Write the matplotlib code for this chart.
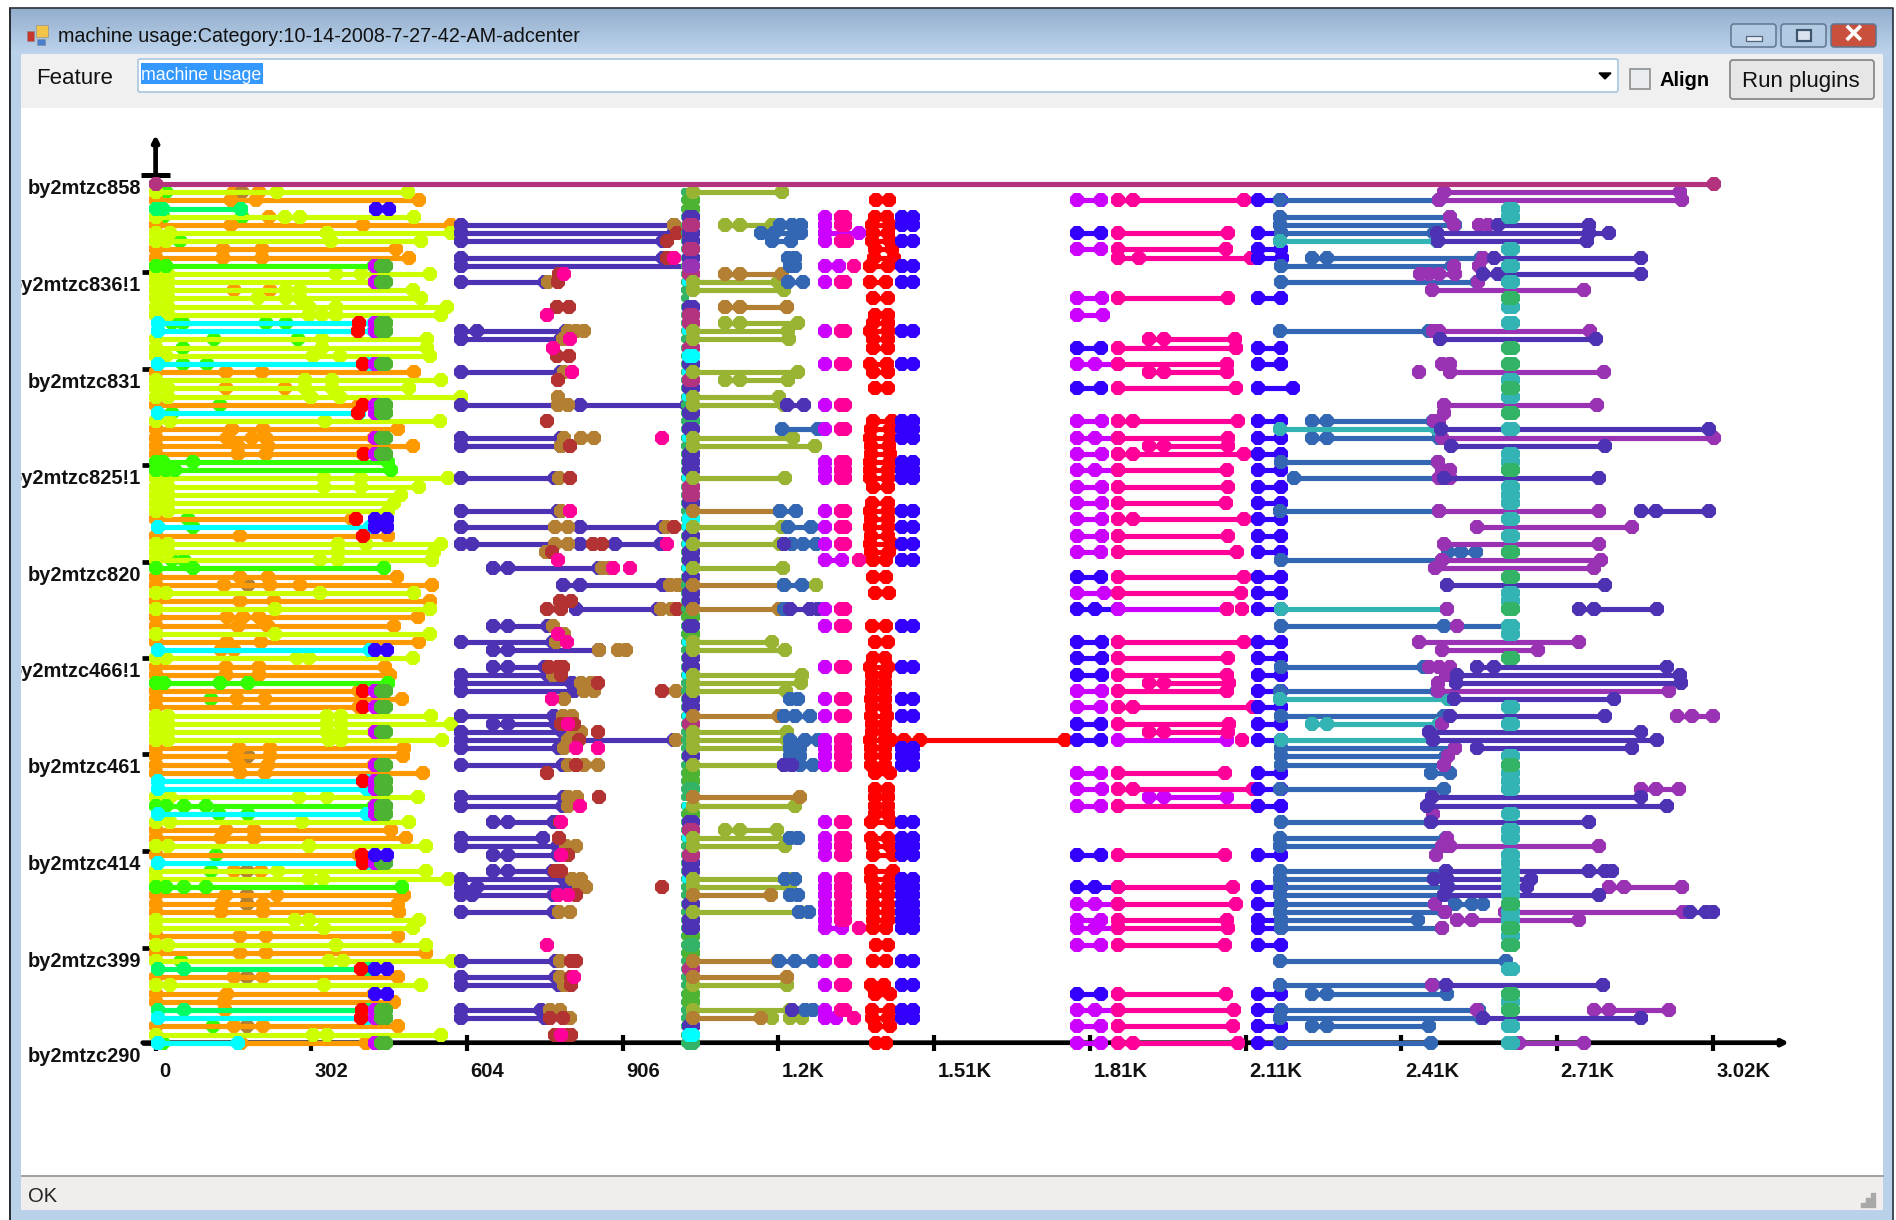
import matplotlib
matplotlib.use('Agg')
import matplotlib.pyplot as plt
from matplotlib.patches import Rectangle, FancyBboxPatch
from matplotlib.transforms import ScaledTranslation
import numpy as np

plt.rcParams['font.family'] = ['Liberation Sans', 'DejaVu Sans']

W, H = 1896, 1220

# tick marks and labels
xtick_values = [0, 302, 604, 906, 1208, 1510, 1812, 2114, 2416, 2718, 3020]
xtick_labels = ['0', '302', '604', '906', '1.2K', '1.51K', '1.81K', '2.11K', '2.41K', '2.71K', '3.02K']
ytick_rows = [-1.1, 10.8, 22.6, 34.4, 46.2, 58, 69.7, 81.6, 93.4, 105]
ytick_labels = ['by2mtzc858', 'by2mtzc836!1', 'by2mtzc831', 'by2mtzc825!1', 'by2mtzc820',
                'by2mtzc466!1', 'by2mtzc461', 'by2mtzc414', 'by2mtzc399', 'by2mtzc290']

# every series is (row, [x of each dot]); a line joins the dots of one entry
plum = [(0, [0, 3022])]

lime = [(1, [0, 236, 489]), (4, [0, 250, 281, 502]), (6, [0, 28, 333, 572]), (7, [0, 21, 340, 514]),
        (11, [0, 24, 350, 398, 532]), (12, [0, 24, 423]), (13, [0, 24, 253, 281, 499]),
        (14, [0, 24, 198, 253, 281, 514]), (15, [0, 24, 298, 350, 565]), (16, [0, 24, 298, 322, 350, 554]),
        (19, [0, 322, 527]), (20, [0, 322, 527]), (21, [0, 21, 305, 357, 532]), (24, [0, 289, 343, 554]),
        (25, [0, 24, 289, 343, 492]), (26, [0, 24, 301, 357, 592]), (29, [0, 28, 329, 551]),
        (36, [0, 24, 326, 398, 568]), (37, [0, 24, 326, 398, 511]), (38, [0, 24, 475]), (39, [0, 24, 463]),
        (40, [0, 24, 451]), (44, [0, 24, 354, 409, 554]), (45, [0, 24, 354, 540]), (46, [0, 319, 354, 537]),
        (50, [0, 21, 319, 502]), (52, [0, 232, 532]), (55, [0, 232, 532]), (58, [0, 21, 274, 298, 499]),
        (65, [0, 24, 333, 360, 534]), (66, [0, 24, 333, 360, 573]), (67, [0, 24, 333, 360, 423]),
        (68, [0, 24, 336, 360, 556]), (75, [0, 28, 279, 333, 509]), (78, [0, 28, 284, 492]),
        (81, [0, 24, 297, 525]), (84, [0, 237, 525]), (85, [0, 298, 324, 567]), (90, [0, 270, 298, 511]),
        (91, [0, 326, 499]), (93, [0, 24, 350, 525]), (95, [0, 336, 364, 575]), (98, [0, 28, 327, 514]),
        (104, [0, 305, 333, 554])]

orange = [(2, [0, 146, 194, 511]), (5, [0, 146, 402, 572]), (8, [0, 130, 207, 466]), (9, [0, 130, 207, 492]),
          (23, [0, 137, 207, 502]), (27, [0, 395]), (30, [0, 149, 208, 470]), (31, [0, 139, 187, 215, 423]),
          (32, [0, 160, 218, 499]), (33, [0, 160, 215, 402]), (41, [0, 380]), (43, [0, 163, 450]),
          (48, [0, 163, 218, 468]), (49, [0, 132, 222, 281, 537]), (51, [0, 163, 229, 532]),
          (53, [0, 139, 170, 201, 509]), (54, [0, 160, 218, 463]), (56, [0, 139, 204, 511]),
          (59, [0, 137, 201, 444]), (60, [0, 137, 201, 454]), (62, [0, 395]), (63, [0, 158, 212, 477]),
          (64, [0, 395]), (69, [0, 161, 222, 482]), (70, [0, 153, 222, 480]), (71, [0, 161, 218, 423]),
          (72, [0, 163, 213, 518]), (79, [0, 137, 191, 457]), (80, [0, 126, 191, 486]), (82, [0, 395]),
          (87, [0, 137, 236, 482]), (88, [0, 128, 208, 470]), (89, [0, 126, 208, 473]), (92, [0, 163, 215, 470]),
          (94, [0, 163, 215, 525]), (97, [0, 153, 208, 470]), (99, [0, 139, 423]), (100, [0, 133, 463]),
          (103, [0, 153, 208, 470]), (105, [165, 409])]
orange_dots = [(1, [153]), (1, [201]), (4, [220]), (13, [153]), (13, [222]), (25, [137]), (25, [250]),
               (57, [126]), (57, [153]), (84, [153]), (84, [205]), (101, [135])]
brown_dots_a = [(1, [168]), (49, [180]), (70, [179]), (84, [177]), (87, [177]), (88, [177]), (97, [177]), (103, [177])]

spring = [(3, [0, 14, 165]), (96, [4, 55, 412]), (101, [4, 55, 412])]
cyan = [(17, [4, 423]), (18, [4, 423]), (22, [4, 415]), (28, [4, 395]), (42, [4, 415]), (57, [4, 415]),
        (73, [4, 410]), (74, [4, 410]), (77, [4, 410]), (83, [4, 410]), (102, [4, 410]), (105, [4, 160])]
green = [(10, [0, 21, 423]), (34, [0, 14, 73, 450]), (35, [0, 21, 38, 457]), (47, [0, 73, 443]),
         (61, [0, 17, 125, 179, 450]), (76, [0, 21, 56, 97, 423]), (86, [0, 21, 56, 97, 477])]
green_dots = [(1, [21]), (4, [14]), (4, [168]), (7, [48]), (17, [32]), (17, [54]), (17, [215]), (17, [253]),
              (19, [114]), (19, [277]), (20, [54]), (22, [54]), (22, [100]), (27, [125]), (28, [32]), (41, [63]),
              (42, [73]), (46, [32]), (46, [55]), (63, [108]), (77, [123]), (77, [179]), (82, [118]),
              (84, [108]), (95, [50]), (103, [111]), (105, [14])]

red_end_a = [(17, [395]), (18, [392]), (22, [403]), (27, [402]), (28, [392]), (33, [404]), (41, [388]), (43, [403]),
             (62, [403]), (64, [403]), (73, [403]), (82, [400]), (83, [403]), (96, [398]), (101, [400]), (102, [398])]
clump_rows = [10, 12, 17, 18, 22, 27, 28, 31, 33, 62, 64, 67, 71, 73, 74, 76, 77, 83, 101, 102, 105]
clump_violet_x = 425
clump_leaf_x = [438, 446]
blue_a = [(3, [428, 452]), (41, [425, 448]), (42, [425, 448]), (57, [425, 448]), (82, [425, 448]),
          (96, [425, 448]), (99, [425, 448])]

indigo_b = [(5, [593, 1005]), (6, [593, 1005]), (7, [593, 985]), (9, [593, 985]), (10, [593, 1035]), (12, [593, 755]),
            (18, [593, 624, 795]), (19, [593, 786]), (23, [593, 786]), (27, [593, 823, 1030]), (31, [593, 786]),
            (32, [593, 786]), (36, [593, 775]), (40, [593, 780]), (42, [593, 823, 985]),
            (44, [593, 613, 823, 891, 980]), (47, [655, 683, 860]), (49, [790, 823, 985]), (52, [816, 975]),
            (54, [655, 683, 762]), (56, [593, 770]), (57, [655, 683, 860]), (59, [655, 683, 755]), (60, [593, 762]),
            (61, [593, 807]), (62, [593, 811]), (65, [593, 773]), (66, [655, 683, 776]), (67, [593, 790]),
            (68, [593, 1005]), (69, [593, 783]), (71, [593, 790]), (75, [593, 793]), (76, [593, 790]),
            (78, [655, 683, 773]), (80, [593, 752]), (81, [593, 780]), (82, [655, 683, 780]), (84, [655, 683, 770]),
            (85, [593, 793]), (86, [593, 624, 803]), (87, [593, 613, 773]), (89, [593, 773]), (95, [593, 776]),
            (97, [593, 776]), (98, [593, 783]), (101, [593, 748]), (102, [593, 755])]
brown_b = [(5, [1005]), (12, [762]), (18, [800, 815, 831]), (19, [790]), (23, [793]), (26, [781]), (27, [781, 800]),
           (31, [793]), (31, [825, 850]), (32, [786]), (36, [783]), (40, [786]), (42, [775, 800]), (42, [990]),
           (44, [775, 800]), (45, [757]), (47, [866, 880]), (49, [998, 1013]), (52, [980, 1000]), (54, [770]),
           (55, [793]), (56, [777]), (57, [859]), (57, [897, 912]), (60, [770]), (61, [825, 845]), (62, [830, 850]),
           (62, [1010]), (63, [793]), (65, [790, 808]), (67, [810, 825]), (68, [800]), (68, [1010]), (69, [793]),
           (71, [800]), (71, [830]), (71, [858]), (75, [800, 818]), (76, [800]), (81, [796, 815]), (85, [808, 825]),
           (86, [822, 835]), (89, [783, 803]), (95, [785]), (97, [785]), (98, [793]), (101, [765, 785]), (102, [804])]
brick = [(6, [1012]), (7, [991]), (9, [991]), (11, [783]), (12, [780]), (15, [778, 802]), (21, [778, 802]), (24, [780]),
         (29, [760]), (32, [803]), (36, [803]), (42, [1005]), (44, [849, 866]), (45, [768]), (51, [785, 805]),
         (52, [760, 786]), (52, [1012]), (59, [763, 780, 790]), (60, [786]), (61, [858]), (62, [982]), (66, [786]),
         (66, [812]), (67, [858]), (68, [822]), (71, [815]), (72, [760]), (75, [859]), (78, [785]), (80, [783]),
         (82, [800]), (84, [775, 786]), (86, [982]), (87, [815]), (95, [805, 815]), (97, [805]), (98, [805]),
         (102, [765, 790]), (104, [775]), (104, [800, 805])]
pink_b = [(9, [1005]), (11, [793]), (16, [760]), (19, [803]), (20, [770]), (23, [808]), (31, [982]), (40, [803]),
          (44, [991]), (46, [781]), (47, [887]), (47, [920]), (55, [781]), (56, [798]), (63, [768]), (66, [800]),
          (69, [816]), (69, [858]), (76, [823]), (78, [786]), (82, [786]), (87, [780]), (87, [800]), (93, [760]),
          (97, [812]), (104, [786])]

# stacked dots around x = 1.03K
stack_indigo = [4, 6, 7, 9, 15, 22, 25, 28, 30, 33, 34, 35, 39, 43, 45, 46, 48, 50, 51, 54, 58, 59, 63, 64, 70, 78,
                83, 84, 88, 90, 91, 103]
stack_plum = [5, 8, 11, 16, 17, 20, 24, 37, 38, 66, 79, 82, 96]
stack_purple = [10]
stack_leaf = [2, 3, 53, 55, 72, 73, 77, 92, 94, 99, 100]
stack_sea = [29, 74, 93, 105]
stack_cyan = [21, 41, 104]
stack_x = [1034, 1043]
strip_cyan_rows = [12, 18, 21, 23, 26, 31, 36, 41, 42, 44, 47, 56, 60, 65, 66, 73, 76, 80, 85, 96, 104, 105]

olive = [(1, [1043, 1215]), (5, [1105, 1133, 1196]), (12, [1043, 1207]), (13, [1043, 1219]), (17, [1105, 1133, 1245]),
         (18, [1043, 1226]), (19, [1043, 1228]), (23, [1043, 1245]), (24, [1105, 1133, 1226]), (26, [1043, 1209]),
         (27, [1043, 1219]), (31, [1043, 1237]), (32, [1043, 1279]), (36, [1043, 1220]), (42, [1043, 1215]),
         (44, [1043, 1211]), (47, [1043, 1217]), (49, [1280]), (56, [1043, 1195]), (57, [1043, 1221]),
         (60, [1043, 1254]), (61, [1043, 1251]), (62, [1043, 1222]), (67, [1043, 1225]), (68, [1043, 1225]),
         (69, [1043, 1230]), (71, [1043, 1219]), (76, [1043, 1240]), (79, [1105, 1133, 1205]), (80, [1043, 1230]),
         (81, [1043, 1220]), (85, [1043, 1230]), (86, [1043, 1230]), (89, [1043, 1250]), (98, [1043, 1225]),
         (101, [1043, 1230]), (102, [1195]), (102, [1230]), (102, [1254])]
brown_c = [(11, [1105, 1133, 1215]), (15, [1105, 1133, 1224]), (40, [1043, 1211]), (49, [1043, 1219]),
           (52, [1043, 1209]), (65, [1043, 1209]), (75, [1043, 1250]), (87, [1043, 1193]), (95, [1043, 1207]),
           (97, [1043, 1225]), (102, [1043, 1175])]
steel_c = [(5, [1211, 1235, 1252]), (6, [1174, 1200, 1252]), (7, [1196, 1233]), (9, [1226, 1240]), (10, [1230, 1240]),
           (12, [1226, 1256]), (30, [1215, 1285]), (40, [1211, 1243]), (42, [1226, 1271]), (44, [1235, 1255, 1280]),
           (49, [1219, 1254]), (52, [1219]), (63, [1230, 1245]), (65, [1219, 1240, 1270]), (68, [1230, 1260, 1285]),
           (69, [1230, 1250]), (70, [1230, 1250]), (71, [1250, 1275]), (80, [1230, 1245]), (85, [1220, 1240]),
           (87, [1230, 1245]), (89, [1248, 1268]), (95, [1210, 1240, 1275]), (101, [1260, 1275])]
indigo_c = [(27, [1225, 1258]), (44, [1219]), (52, [1230, 1270, 1285]), (71, [1219, 1235]), (101, [1235])]

violet_d_rows = [4, 5, 7, 12, 18, 22, 27, 30, 34, 35, 36, 40, 42, 44, 52, 54, 59, 63, 65, 68, 69, 70, 71, 78, 80, 81,
                 82, 85, 86, 87, 88, 89, 90, 95, 98, 101]
violet_d_x = 1299
pink_d_x = [1330, 1338]
violet_d = [(6, [1299, 1365]), (10, [1299, 1325]), (46, [1299, 1332]), (91, [1299, 1332]), (102, [1299, 1320])]
pink_d = [(10, [1355]), (46, [1365]), (91, [1365]), (102, [1355]), (7, [1340]), (5, [1337])]

red_d = [(2, [1397, 1423]), (4, [1395, 1418]), (5, [1390, 1424]), (6, [1392, 1420]), (7, [1390, 1424]), (8, [1395, 1428]),
         (9, [1393, 1432]), (10, [1385, 1420]), (12, [1385, 1416]), (14, [1392, 1420]), (16, [1395, 1420]),
         (17, [1392, 1420]), (18, [1385, 1420]), (19, [1392, 1420]), (20, [1392, 1420]), (22, [1385, 1418]),
         (23, [1392, 1420]), (25, [1395, 1420]), (29, [1392, 1428]), (30, [1388, 1425]), (31, [1385, 1425]),
         (32, [1388, 1422]), (33, [1388, 1425]), (34, [1385, 1425]), (35, [1385, 1420]), (36, [1385, 1420]),
         (37, [1392, 1420]), (39, [1390, 1420]), (40, [1385, 1420]), (41, [1388, 1420]), (42, [1385, 1420]),
         (43, [1388, 1420]), (44, [1385, 1428]), (45, [1388, 1422]), (46, [1392, 1417]), (48, [1392, 1417]),
         (50, [1395, 1423]), (54, [1390, 1417]), (56, [1395, 1420]), (58, [1392, 1415]), (59, [1385, 1420]),
         (60, [1390, 1415]), (61, [1390, 1415]), (62, [1390, 1415]), (63, [1387, 1415]), (64, [1390, 1415]),
         (65, [1387, 1418]), (66, [1390, 1415]), (67, [1390, 1415]), (68, [1385, 1415]), (69, [1387, 1415]),
         (70, [1387, 1415]), (71, [1387, 1415]), (72, [1395, 1425]), (74, [1395, 1420]), (75, [1395, 1420]),
         (76, [1395, 1420]), (77, [1395, 1420]), (78, [1388, 1427]), (80, [1388, 1420]), (81, [1392, 1425]),
         (82, [1392, 1430]), (84, [1388, 1430]), (85, [1388, 1425]), (86, [1392, 1420]), (87, [1392, 1420]),
         (88, [1392, 1420]), (89, [1392, 1420]), (90, [1392, 1420]), (91, [1392, 1417]), (93, [1397, 1420]),
         (95, [1392, 1417]), (98, [1388, 1412]), (99, [1395, 1425]), (101, [1390, 1425]), (102, [1390, 1420]),
         (103, [1395, 1425]), (105, [1397, 1417]), (68, [1427, 1451, 1482, 1763])]
blue_d_rows = [4, 5, 7, 10, 12, 18, 22, 29, 30, 31, 34, 35, 36, 40, 42, 44, 46, 54, 59, 63, 65, 69, 70, 71, 78, 80, 81,
               82, 85, 86, 87, 88, 89, 90, 91, 95, 98, 101, 102]
blue_d_x = [1448, 1468]

violet_e = [(2, [1788, 1834]), (8, [1788, 1834]), (14, [1788, 1836]), (16, [1788, 1838]), (22, [1788, 1821, 1866]),
            (29, [1788, 1836]), (31, [1788, 1821, 1866]), (33, [1788, 1836]), (35, [1788, 1821, 1866]),
            (37, [1788, 1836]), (39, [1788, 1836]), (41, [1788, 1836]), (43, [1788, 1836]), (45, [1788, 1834]),
            (50, [1788, 1840]), (62, [1788, 1836]), (64, [1788, 1834]), (72, [1788, 1834]), (74, [1788, 1836]),
            (76, [1788, 1834]), (88, [1788, 1821, 1866]), (90, [1788, 1834]), (91, [1788, 1821, 1866]),
            (93, [1788, 1834]), (101, [1788, 1821, 1866]), (103, [1788, 1834]), (105, [1788, 1834]),
            (52, [1866, 2078]), (68, [1866, 2078]), (75, [1926, 1956, 2078])]
blue_e = [(6, [1788, 1834]), (20, [1788, 1834]), (25, [1788, 1834]), (48, [1788, 1834]), (52, [1788, 1821, 1866]),
          (56, [1788, 1836]), (58, [1788, 1836]), (60, [1788, 1836]), (66, [1788, 1834]), (68, [1788, 1834]),
          (82, [1788, 1834]), (86, [1788, 1821, 1866]), (99, [1788, 1834])]
pink_f = [(2, [1866, 1895, 2111]), (6, [1866, 2080]), (8, [1866, 2076]), (9, [1866, 1908, 2124]), (14, [1866, 2080]),
          (19, [1926, 1956, 2093]), (20, [1866, 2096]), (22, [1866, 2078]), (23, [1926, 1956, 2078]),
          (25, [1866, 2096]), (29, [1866, 1895, 2100]), (31, [1866, 2080]), (32, [1926, 1956, 2080]),
          (33, [1866, 1895, 2110]), (35, [1866, 2078]), (37, [1866, 2080]), (39, [1866, 2076]),
          (41, [1866, 1895, 2111]), (43, [1866, 2080]), (45, [1866, 2098]), (48, [1866, 2110]), (50, [1866, 2106]),
          (52, [2078]), (52, [2107]), (56, [1866, 2110]), (58, [1866, 2080]), (60, [1866, 2078]),
          (61, [1926, 1956, 2082]), (62, [1866, 2078]), (64, [1866, 1895, 2128]), (66, [1866, 2082]),
          (67, [1926, 1956, 2080]), (68, [2107]), (72, [1866, 2074]), (74, [1866, 1895, 2128]), (76, [1866, 2138]),
          (82, [1866, 2074]), (86, [1866, 2090]), (88, [1866, 2095]), (90, [1866, 2078]), (91, [1866, 2080]),
          (93, [1866, 2074]), (99, [1866, 2076]), (101, [1866, 2092]), (103, [1866, 2090]), (105, [1866, 1895, 2100])]
blue_g = [(2, [2138, 2183]), (6, [2138, 2183]), (8, [2138, 2183]), (9, [2138, 2185]), (14, [2138, 2183]), (20, [2138, 2183]),
          (22, [2138, 2183]), (25, [2138, 2206]), (29, [2138, 2183]), (31, [2138, 2183]), (33, [2138, 2183]),
          (35, [2138, 2183]), (37, [2138, 2183]), (39, [2138, 2183]), (41, [2138, 2183]), (43, [2138, 2183]),
          (45, [2138, 2183]), (48, [2138, 2183]), (50, [2138, 2183]), (52, [2138, 2183]), (56, [2138, 2183]),
          (58, [2138, 2183]), (60, [2138, 2183]), (62, [2138, 2183]), (64, [2138, 2183]), (66, [2138, 2183]),
          (68, [2138, 2183]), (72, [2138, 2183]), (74, [2138, 2183]), (76, [2138, 2183]), (82, [2138, 2183]),
          (86, [2138, 2183]), (88, [2138, 2183]), (90, [2138, 2183]), (91, [2138, 2183]), (93, [2138, 2183]),
          (99, [2138, 2183]), (101, [2138, 2183]), (103, [2138, 2183]), (105, [2138, 2183])]
steel_h = [(2, [2180, 2490]), (4, [2180, 2510]), (5, [2180, 2520]), (6, [2183, 2480]), (9, [2242, 2271, 2570]),
           (10, [2183, 2515]), (12, [2183, 2562]), (18, [2180, 2470]), (29, [2242, 2271, 2477]),
           (31, [2242, 2271, 2490]), (34, [2183, 2488]), (36, [2208, 2498]), (40, [2180, 2490]), (45, [2507, 2532, 2561]),
           (46, [2183, 2495]), (54, [2183, 2498, 2628]), (59, [2183, 2460]), (62, [2180, 2486]), (65, [2183, 2498]),
           (69, [2183, 2520]), (70, [2183, 2502]), (71, [2183, 2498]), (72, [2473, 2510]), (74, [2180, 2498]),
           (78, [2183, 2473]), (80, [2180, 2503]), (81, [2180, 2503]), (84, [2180, 2503]), (85, [2180, 2500]),
           (86, [2180, 2507]), (87, [2180, 2498]), (88, [2183, 2481]), (88, [2521, 2553, 2574]), (89, [2180, 2498]),
           (90, [2183, 2448]), (91, [2183, 2494]), (95, [2180, 2620]), (98, [2180, 2477]), (99, [2242, 2271, 2505]),
           (101, [2183, 2566]), (102, [2180, 2570]), (103, [2242, 2271, 2469]), (105, [2180, 2474])]
teal_h = [(7, [2180, 2486]), (30, [2180, 2486]), (52, [2183, 2505]), (63, [2180, 2507]), (66, [2242, 2271, 2490]),
          (68, [2183, 2477])]
purple_i = [(1, [2498, 2957]), (2, [2490, 2961]), (4, [2511]), (5, [2519]), (5, [2566, 2585]), (9, [2574]),
            (10, [2518]), (10, [2566]), (11, [2452, 2470, 2490, 2520]), (12, [2564]), (13, [2476, 2771]),
            (18, [2477, 2490, 2782]), (22, [2495, 2510]), (23, [2450]), (23, [2511, 2809]), (27, [2498, 2795]),
            (28, [2498]), (29, [2480, 2490]), (31, [2494, 3022]), (34, [2488]), (35, [2494, 2510]), (36, [2490, 2510]),
            (40, [2490, 2799]), (42, [2563, 2864]), (44, [2498, 2799]), (46, [2495, 2803]), (47, [2481, 2790]),
            (52, [2505]), (54, [2525]), (56, [2450, 2761]), (57, [2494, 2682]), (59, [2470, 2490, 2510]), (60, [2503]),
            (61, [2487]), (62, [2487, 2935]), (65, [2950, 2980, 3020]), (66, [2494]), (69, [2520]), (70, [2506]),
            (71, [2498]), (74, [2881, 2910, 2955]), (77, [2477]), (80, [2505]), (81, [2495, 2510, 2800]), (82, [2484]),
            (86, [2818, 2847, 2961]), (88, [2482]), (89, [2500]), (89, [2617, 2963]), (90, [2524, 2553, 2760]),
            (91, [2495]), (98, [2475]), (101, [2563]), (101, [2790, 2818, 2935]), (105, [2645, 2770])]
indigo_i = [(5, [2604, 2780]), (6, [2485, 2780, 2818]), (7, [2488, 2777]), (9, [2596, 2881]), (11, [2574, 2604, 2881]),
            (19, [2491, 2793]), (30, [2493, 3013]), (32, [2513, 2812]), (36, [2498, 2799]), (40, [2881, 2910, 3013]),
            (49, [2505, 2812]), (52, [2761, 2790, 2912]), (59, [2563, 2595, 2932]), (60, [2524, 2957]),
            (61, [2523, 2958]), (63, [2518, 2828]), (65, [2511, 2812]), (67, [2469, 2881]), (68, [2477, 2912]),
            (69, [2563, 2863]), (75, [2476, 2881]), (76, [2465, 2932]), (78, [2473, 2780]), (84, [2503, 2780, 2812, 2825]),
            (85, [2480, 2505, 2667]), (86, [2505, 2660]), (87, [2498, 2800]), (89, [2975, 3007, 3020]),
            (98, [2503, 2808]), (102, [2574, 2881])]
teal_rows = [3, 4, 8, 10, 12, 15, 17, 24, 26, 30, 33, 34, 37, 38, 39, 41, 43, 50, 51, 54, 55, 64, 66, 70, 72, 73, 74, 77,
             79, 80, 82, 83, 84, 85, 86, 87, 89, 90, 92, 96, 100, 103, 105]
sea_rows = [14, 20, 22, 25, 28, 35, 45, 48, 52, 58, 71, 88, 91, 93, 99, 101]
teal_x = [2622, 2633]

colors = {
    'lime': '#CCFF00', 'orange': '#FF9900', 'spring': '#00FF66', 'cyan': '#00FFFF', 'green': '#33FF00',
    'plum': '#B3337F', 'red': '#FF0000', 'violet': '#CC00FF', 'leaf': '#4DB333', 'blue': '#3300FF',
    'indigo': '#4D33B3', 'brown': '#B38033', 'brick': '#B33333', 'pink': '#FF0099', 'olive': '#99B333',
    'steel': '#3366B3', 'teal': '#33B3B3', 'purple': '#9933B3', 'sea': '#33B366',
}


def draw_runs(ax, runs, color, ms=10.8, lw=3.7):
    for row, xs in runs:
        ax.plot(xs, [row] * len(xs), color=colors[color], lw=lw, marker='8', ms=ms, mew=0,
                solid_capstyle='butt', clip_on=False)


def at(rows, x):
    xs = x if isinstance(x, list) else [x]
    return [(r, xs) for r in rows]


fig = plt.figure(figsize=(W / 100, H / 100), dpi=100, facecolor='white')

# window chrome, drawn in pixels
win = fig.add_axes([0, 0, 1, 1], zorder=-1)
win.set_xlim(0, W)
win.set_ylim(H, 0)
win.axis('off')
grad = np.linspace(0, 1, 64).reshape(-1, 1)
win.imshow(grad, extent=(9, 1893, 54, 8), aspect='auto', cmap=matplotlib.colors.LinearSegmentedColormap.from_list(
    'title', ['#93AECD', '#BDD4EC']), zorder=1)
win.set_xlim(0, W)
win.set_ylim(H, 0)
win.add_patch(Rectangle((9, 54), 12, 1166, fc='#BAD1EA', ec='none', zorder=1))
win.add_patch(Rectangle((1883, 54), 10, 1166, fc='#BAD1EA', ec='none', zorder=1))
win.add_patch(Rectangle((9, 1210), 1884, 10, fc='#BAD1EA', ec='none', zorder=1))
win.plot([9, 9, 1893, 1893], [1220, 8, 8, 1220], color='#2A2F36', lw=1.2, zorder=2)
win.add_patch(Rectangle((21, 54), 1862, 54, fc='#F0F0F0', ec='none', zorder=1))
win.add_patch(Rectangle((21, 1176), 1862, 34, fc='#F0EDEC', ec='none', zorder=1))
win.plot([21, 1883], [1176, 1176], color='#A0A0A0', lw=1.4, zorder=2)
win.add_patch(FancyBboxPatch((138, 59), 1480, 33, boxstyle='round,pad=0,rounding_size=2', fc='white',
                             ec='#A9C6DE', lw=1.2, zorder=2))
win.add_patch(Rectangle((141, 63), 122, 21, fc='#3399FF', ec='none', zorder=3))
win.text(141, 76, 'machine usage', color='white', fontsize=12.8, va='center', zorder=4)
win.text(36, 79, 'Feature', color='#111111', fontsize=16, va='center', zorder=4)
win.text(58, 36, 'machine usage:Category:10-14-2008-7-27-42-AM-adcenter', color='#111111', fontsize=14.2,
         va='center', zorder=4)
win.text(1660, 80, 'Align', color='black', fontsize=14.5, weight='bold', va='center', zorder=4)
win.text(28, 1197, 'OK', color='#222222', fontsize=14.5, va='center', zorder=4)
win.fill([1599, 1611, 1605], [73, 73, 79], color='black', zorder=4)
win.add_patch(Rectangle((1630, 69), 20, 20, fc='#E8ECF0', ec='#8E8F8F', lw=1.2, zorder=3))
win.add_patch(FancyBboxPatch((1730, 60), 144, 39, boxstyle='round,pad=0,rounding_size=3', fc='#E6E6E6',
                             ec='#8A8A8A', lw=1.3, zorder=3))
win.text(1801, 82, 'Run plugins', color='#111111', fontsize=16, ha='center', va='center', zorder=4)
for x0, face in [(1731, '#B3CAE3'), (1781, '#B3CAE3'), (1831, '#C8503C')]:
    win.add_patch(FancyBboxPatch((x0, 24), 45, 23, boxstyle='round,pad=0,rounding_size=3', fc=face,
                                 ec='#5F7590', lw=1.1, zorder=3))
win.add_patch(Rectangle((1746, 36), 16, 5, fc='#E6EDF5', ec='#50647C', lw=0.9, zorder=4))
win.add_patch(Rectangle((1797, 30), 14, 11, fc='#D9E4F0', ec='#40546C', lw=1.6, zorder=4))
win.text(1853, 35, '×', color='white', fontsize=24, weight='bold', ha='center', va='center', zorder=4)
win.add_patch(Rectangle((27, 31), 7, 10, fc='#C8352A', ec='#888888', lw=0.4, zorder=4))
win.add_patch(Rectangle((36, 25), 12, 12, fc='#F2C548', ec='#888888', lw=0.4, zorder=4))
win.add_patch(Rectangle((37, 39), 8, 6, fc='#4A7FD0', ec='#888888', lw=0.4, zorder=4))
win.scatter([1863, 1868, 1873, 1868, 1873, 1873], [1205, 1205, 1205, 1200, 1200, 1195], s=5, marker='s',
            color='#A8A8A8', zorder=4)

# chart area: row 0 at y=184 px, row 105 at y=1042.7 px, 0.5156 px per x unit
left, right = 155.6, 1789
top, bottom = 175, 1042.7
ax = fig.add_axes([left / W, 1 - bottom / H, (right - left) / W, (bottom - top) / H])
ax.patch.set_alpha(0)
ax.set_xlim(0, (right - left) / 0.5156)
ax.set_ylim(105, -1.1)
for s in ax.spines.values():
    s.set_visible(False)
ax.set_axisbelow(True)
ax.set_xticks(xtick_values)
ax.set_xticklabels(xtick_labels, fontsize=14.6, weight='bold', ha='left', color='#111111')
ax.set_yticks(ytick_rows)
ax.set_yticklabels(ytick_labels, fontsize=14.4, weight='bold', va='top', color='#111111')
ax.tick_params(axis='x', direction='inout', length=12, width=3, pad=8, color='black')
ax.tick_params(axis='y', direction='out', length=10, width=3.4, pad=2, color='black')
for lbl in ax.get_yticklabels():
    lbl.set_transform(lbl.get_transform() + ScaledTranslation(2.5 / 100, -4 / 100, fig.dpi_scale_trans))
for lbl in ax.get_xticklabels():
    lbl.set_transform(lbl.get_transform() + ScaledTranslation(3.5 / 100, 0, fig.dpi_scale_trans))
ax.annotate('', xy=(3168, 105), xytext=(-25, 105), zorder=1, annotation_clip=False,
            arrowprops=dict(arrowstyle='-|>,head_width=0.18,head_length=0.35', lw=3.4, color='black', shrinkA=0, shrinkB=0))
ax.annotate('', xy=(0, -6), xytext=(0, 105), zorder=1, annotation_clip=False,
            arrowprops=dict(arrowstyle='-|>,head_width=0.18,head_length=0.35', lw=3.4, color='black', shrinkA=0, shrinkB=0))
ax.plot([-28, 28], [-1.1, -1.1], color='black', lw=3.6, solid_capstyle='butt', clip_on=False)

# first block, left to right
draw_runs(ax, green_dots, 'green')
draw_runs(ax, orange_dots, 'orange')
draw_runs(ax, brown_dots_a, 'brown')
draw_runs(ax, orange, 'orange')
draw_runs(ax, lime, 'lime')
draw_runs(ax, green, 'green')
draw_runs(ax, spring, 'spring')
draw_runs(ax, cyan, 'cyan')
draw_runs(ax, red_end_a, 'red')
draw_runs(ax, at(clump_rows, clump_violet_x), 'violet')
draw_runs(ax, at(clump_rows, clump_leaf_x), 'leaf')
draw_runs(ax, blue_a, 'blue')

draw_runs(ax, indigo_b, 'indigo')
draw_runs(ax, brown_b, 'brown')
draw_runs(ax, brick, 'brick')
draw_runs(ax, pink_b, 'pink')

# thin strip and the stack
draw_runs(ax, at(list(range(1, 106)), 1026), 'sea', ms=6)
draw_runs(ax, at(strip_cyan_rows, 1029), 'cyan', ms=6)
draw_runs(ax, at(stack_leaf, stack_x), 'leaf')
draw_runs(ax, at(stack_sea, stack_x), 'sea')
draw_runs(ax, at(stack_indigo, stack_x), 'indigo')
draw_runs(ax, at(stack_plum, stack_x), 'plum')
draw_runs(ax, at(stack_purple, stack_x), 'purple')
draw_runs(ax, at(stack_cyan, stack_x), 'cyan')

draw_runs(ax, olive, 'olive')
draw_runs(ax, brown_c, 'brown')
draw_runs(ax, steel_c, 'steel')
draw_runs(ax, indigo_c, 'indigo')

draw_runs(ax, at(violet_d_rows, violet_d_x), 'violet')
draw_runs(ax, violet_d, 'violet')
draw_runs(ax, at(violet_d_rows, pink_d_x), 'pink')
draw_runs(ax, pink_d, 'pink')
draw_runs(ax, red_d, 'red')
draw_runs(ax, at(blue_d_rows, blue_d_x), 'blue')

draw_runs(ax, blue_e, 'blue')
draw_runs(ax, violet_e, 'violet')
draw_runs(ax, pink_f, 'pink')
draw_runs(ax, blue_g, 'blue')
draw_runs(ax, steel_h, 'steel')
draw_runs(ax, teal_h, 'teal')
draw_runs(ax, purple_i, 'purple')
draw_runs(ax, indigo_i, 'indigo')
draw_runs(ax, at(teal_rows, teal_x), 'teal')
draw_runs(ax, at(sea_rows, teal_x), 'sea')
draw_runs(ax, plum, 'plum')

# left border sits over the long labels
fig.add_artist(Rectangle((9 / W, 0), 12 / W, 1 - 54 / H, transform=fig.transFigure, fc='#BAD1EA', ec='none', zorder=10))
fig.add_artist(Rectangle((0, 0), 9 / W, 1, transform=fig.transFigure, fc='white', ec='none', zorder=10))
fig.add_artist(Rectangle((9 / W, 0), 1.5 / W, 1 - 8 / H, transform=fig.transFigure, fc='#2A2F36', ec='none', zorder=11))

fig.savefig('out.png', dpi=100)
